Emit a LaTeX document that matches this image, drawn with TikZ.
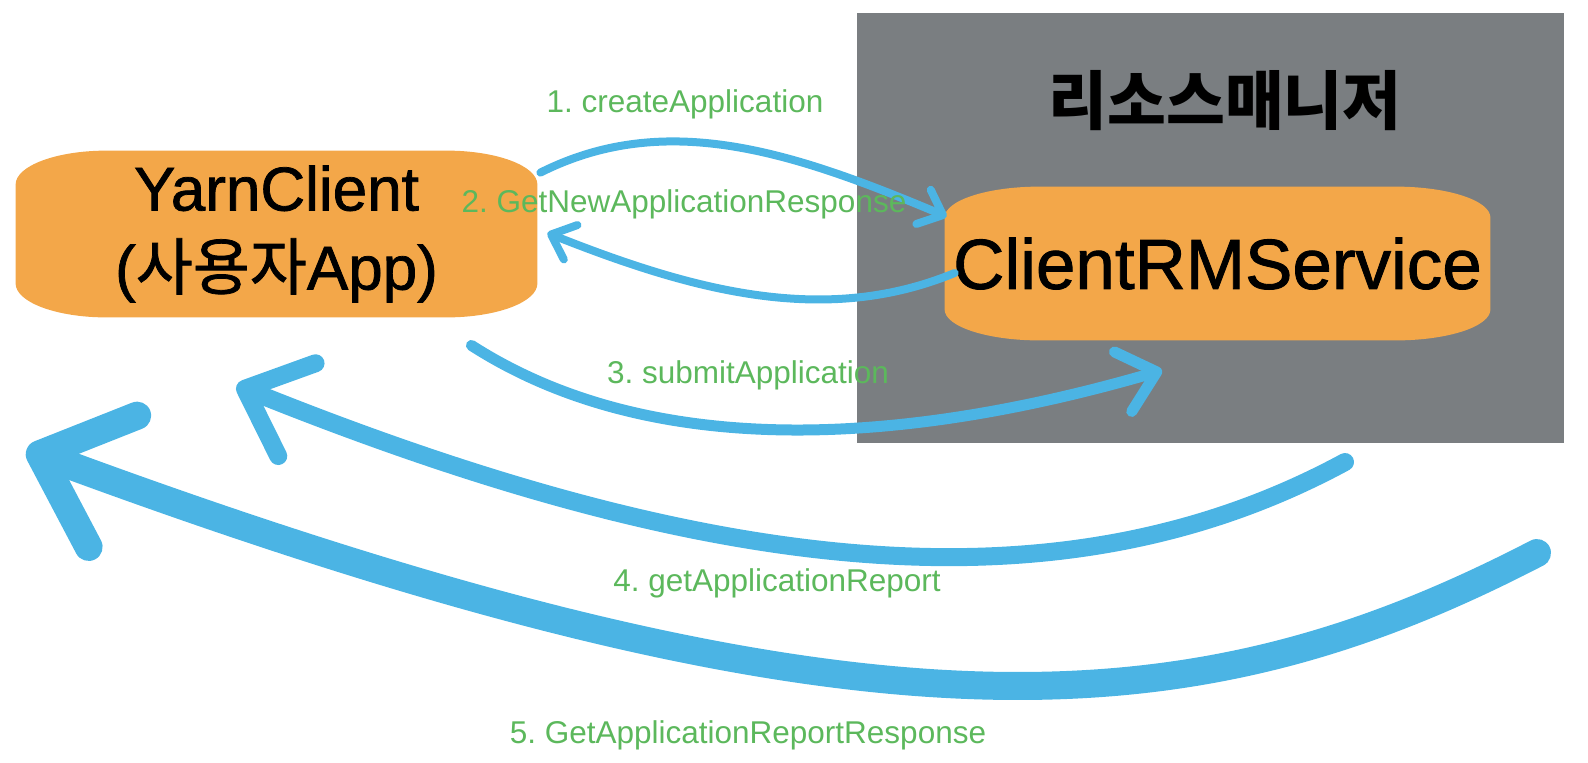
\documentclass[tikz,border=0pt]{standalone}
\usepackage{fontspec}
\setmainfont{Liberation Sans}
\newfontfamily\boxfont[FakeBold=1.2]{Liberation Sans}
\newfontfamily\kr{Noto Sans CJK KR}
\newfontfamily\krbox[FakeBold=1.2]{Noto Sans CJK KR}
\usetikzlibrary{arrows.meta, backgrounds}
\definecolor{rmgray}{RGB}{122,126,129}
\definecolor{boxorange}{RGB}{243,167,73}
\definecolor{callblue}{RGB}{75,180,228}
\definecolor{callgreen}{RGB}{92,184,92}
\frenchspacing

\begin{document}
\begin{tikzpicture}[x=0.5pt, y=-0.5pt,
  box/.style={inner sep=0pt, align=center, text=black},
  call/.style={draw=callblue, line cap=round},
  lbl/.style={text=callgreen, inner sep=0pt, font=\fontsize{15.75}{18}\selectfont}]
\useasboundingbox (0,0) rectangle (1588,762);

% the two parties
\node[font=\kr\bfseries\fontsize{32}{36}\selectfont] (rmtitle) at (1225,101) {리소스매니저};
\node[box, minimum width=260.5pt, minimum height=83pt, font=\boxfont\fontsize{31}{39.5}\selectfont] (yc) at (276.5,234) {YarnClient\\({\krbox 사용자}App)};
\node[box, minimum width=272.5pt, minimum height=76.5pt, font=\boxfont\fontsize{35.5}{40}\selectfont] (rm) at (1217.5,263.5) {ClientRMService};

\begin{scope}[on background layer]
\fill[rmgray] (857,13) rectangle (1564,443);
\fill[boxorange] ([yshift=-17pt]yc.north west) arc[start angle=180, end angle=90, x radius=45.5pt, y radius=17pt]
  -- ([xshift=-45.5pt]yc.north east) arc[start angle=90, end angle=0, x radius=45.5pt, y radius=17pt]
  -- ([yshift=17pt]yc.south east) arc[start angle=0, end angle=-90, x radius=45.5pt, y radius=17pt]
  -- ([xshift=45.5pt]yc.south west) arc[start angle=-90, end angle=-180, x radius=45.5pt, y radius=17pt] -- cycle;
\fill[boxorange] ([yshift=-15.5pt]rm.north west) arc[start angle=180, end angle=90, x radius=47.5pt, y radius=15.5pt]
  -- ([xshift=-47.5pt]rm.north east) arc[start angle=90, end angle=0, x radius=47.5pt, y radius=15.5pt]
  -- ([yshift=15.5pt]rm.south east) arc[start angle=0, end angle=-90, x radius=47.5pt, y radius=15.5pt]
  -- ([xshift=47.5pt]rm.south west) arc[start angle=-90, end angle=-180, x radius=47.5pt, y radius=15.5pt] -- cycle;
\end{scope}

% calls
\coordinate (r4) at (1345,462);
\coordinate (r5) at (1537,553);
\draw[call, line width=4pt, -{Straight Barb[round, length=10.5pt, width=18.5pt]}] ([shift={(3,22)}]yc.north east) .. controls (665,110) and (791,151) .. ([shift={(2,30)}]rm.north west);
\draw[call, line width=4pt, -{Straight Barb[round, length=10.5pt, width=18.5pt]}] ([shift={(10,9.5)}]rm.west) .. controls (826,326) and (696,292) .. ([shift={(10,-1)}]yc.east);
\draw[call, line width=5.5pt, -{Straight Barb[round, length=17.5pt, width=31pt]}] ([shift={(-66,28)}]yc.south east) .. controls (656,464) and (912,443) .. ([shift={(-55.5,30)}]rm.south);
\draw[call, line width=9pt, -{Straight Barb[round, length=28pt, width=50pt]}] (r4) .. controls (1055,619) and (701,572) .. ([shift={(221,68)}]yc.south west);
\draw[call, line width=14pt, -{Straight Barb[round, length=39pt, width=70pt]}] (r5) .. controls (1199,728) and (872,762) .. ([shift={(11,132)}]yc.south west);

% labels
\node[lbl] (l1) at (685,104) {1. createApplication};
\node[lbl] (l2) at (684,204) {2. GetNewApplicationResponse};
\node[lbl] (l3) at (748,375) {3. submitApplication};
\node[lbl] (l4) at (777,583) {4. getApplicationReport};
\node[lbl] (l5) at (748,735) {5. GetApplicationReportResponse};
\end{tikzpicture}
\end{document}
